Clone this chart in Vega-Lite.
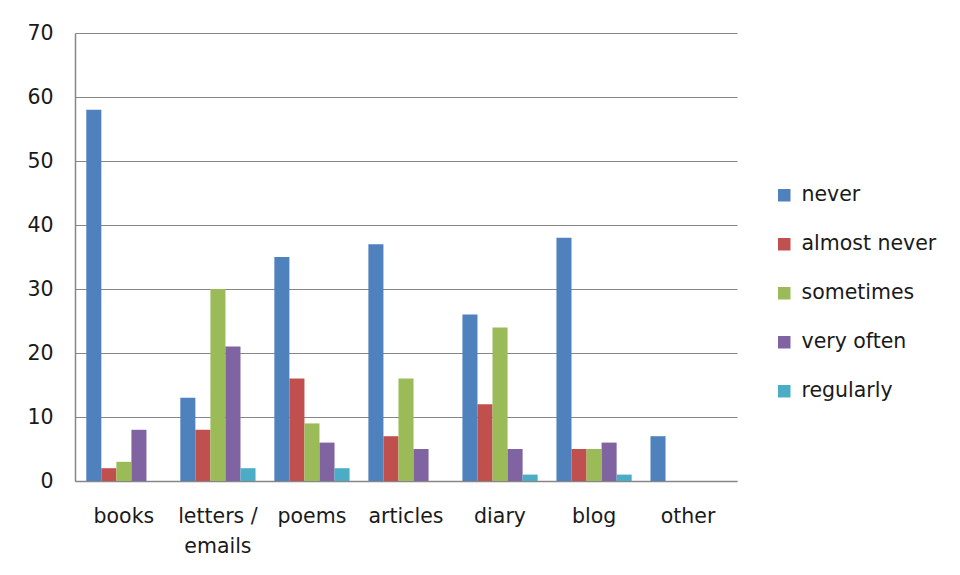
{
  "$schema": "https://vega.github.io/schema/vega-lite/v6.json",
  "autosize": "none",
  "width": 662,
  "height": 448,
  "padding": {"left": 75, "top": 33, "right": 223, "bottom": 94},
  "background": "white",
  "config": {
    "font": "DejaVu Sans",
    "view": {"stroke": null},
    "axis": {"labelFont": "DejaVu Sans", "labelColor": "#1a1a1a", "labelFontSize": 20.5}
  },
  "data": {
    "values": [
      {"category": "books", "frequency": "never", "count": 58},
      {"category": "books", "frequency": "almost never", "count": 2},
      {"category": "books", "frequency": "sometimes", "count": 3},
      {"category": "books", "frequency": "very often", "count": 8},
      {"category": "books", "frequency": "regularly", "count": 0},
      {"category": "letters / emails", "frequency": "never", "count": 13},
      {"category": "letters / emails", "frequency": "almost never", "count": 8},
      {"category": "letters / emails", "frequency": "sometimes", "count": 30},
      {"category": "letters / emails", "frequency": "very often", "count": 21},
      {"category": "letters / emails", "frequency": "regularly", "count": 2},
      {"category": "poems", "frequency": "never", "count": 35},
      {"category": "poems", "frequency": "almost never", "count": 16},
      {"category": "poems", "frequency": "sometimes", "count": 9},
      {"category": "poems", "frequency": "very often", "count": 6},
      {"category": "poems", "frequency": "regularly", "count": 2},
      {"category": "articles", "frequency": "never", "count": 37},
      {"category": "articles", "frequency": "almost never", "count": 7},
      {"category": "articles", "frequency": "sometimes", "count": 16},
      {"category": "articles", "frequency": "very often", "count": 5},
      {"category": "articles", "frequency": "regularly", "count": 0},
      {"category": "diary", "frequency": "never", "count": 26},
      {"category": "diary", "frequency": "almost never", "count": 12},
      {"category": "diary", "frequency": "sometimes", "count": 24},
      {"category": "diary", "frequency": "very often", "count": 5},
      {"category": "diary", "frequency": "regularly", "count": 1},
      {"category": "blog", "frequency": "never", "count": 38},
      {"category": "blog", "frequency": "almost never", "count": 5},
      {"category": "blog", "frequency": "sometimes", "count": 5},
      {"category": "blog", "frequency": "very often", "count": 6},
      {"category": "blog", "frequency": "regularly", "count": 1},
      {"category": "other", "frequency": "never", "count": 7},
      {"category": "other", "frequency": "almost never", "count": 0},
      {"category": "other", "frequency": "sometimes", "count": 0},
      {"category": "other", "frequency": "very often", "count": 0},
      {"category": "other", "frequency": "regularly", "count": 0}
    ]
  },
  "mark": {"type": "bar"},
  "encoding": {
    "x": {
      "field": "category",
      "type": "nominal",
      "sort": ["books", "letters / emails", "poems", "articles", "diary", "blog", "other"],
      "scale": {"paddingInner": 0.2, "paddingOuter": 0.12},
      "axis": {
        "title": null,
        "labelAngle": 0,
        "ticks": false,
        "labelPadding": 25,
        "labelBaseline": "top",
        "labelLineHeight": 30,
        "labelExpr": "datum.label == 'letters / emails' ? ['letters /', 'emails'] : datum.label",
        "domainColor": "#868686",
        "domainWidth": 1.5,
        "labelColor": "#1a1a1a"
      }
    },
    "xOffset": {
      "field": "frequency",
      "type": "nominal",
      "sort": ["never", "almost never", "sometimes", "very often", "regularly"],
      "scale": {"paddingInner": 0, "paddingOuter": 0}
    },
    "y": {
      "field": "count",
      "type": "quantitative",
      "scale": {"domain": [0, 70]},
      "axis": {
        "title": null,
        "values": [0, 10, 20, 30, 40, 50, 60, 70],
        "ticks": false,
        "labelPadding": 22,
        "gridColor": "#868686",
        "gridWidth": 1,
        "domainColor": "#868686",
        "domainWidth": 1.5
      }
    },
    "color": {
      "field": "frequency",
      "type": "nominal",
      "sort": ["never", "almost never", "sometimes", "very often", "regularly"],
      "scale": {
        "domain": ["never", "almost never", "sometimes", "very often", "regularly"],
        "range": ["#4F81BD", "#C0504D", "#9BBB59", "#8064A2", "#4BACC6"]
      },
      "legend": {
        "title": null,
        "orient": "none",
        "legendX": 699,
        "legendY": 152,
        "symbolType": "square",
        "symbolSize": 156,
        "symbolStrokeWidth": 0,
        "labelFontSize": 20.5,
        "labelFont": "DejaVu Sans",
        "labelColor": "#1a1a1a",
        "labelOffset": 7,
        "rowPadding": 28
      }
    }
  }
}
